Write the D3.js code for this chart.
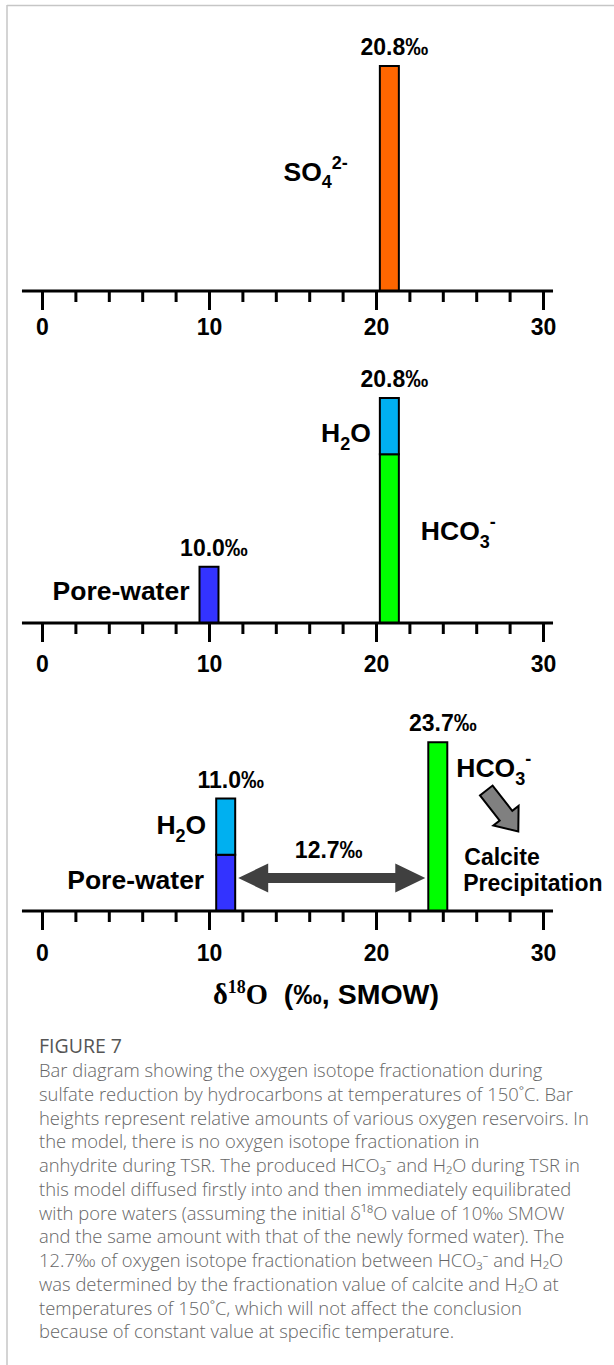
<!DOCTYPE html>
<html>
<head>
<meta charset="utf-8">
<script src="https://cdn.jsdelivr.net/npm/d3@7"></script>
<style>
  body { margin: 0; background: #fff; }
  svg { display: block; }
</style>
</head>
<body>
<div id="chart"></div>
<script>
// tick labels of the delta-18O axis
var tickLabels = [0, 10, 20, 30];
var minorTicks = [0, 2, 4, 6, 8, 10, 12, 14, 16, 18, 20, 22, 24, 26, 28, 30];

// oxygen reservoirs, one entry per bar segment (stacked from the axis up)
var segStage     = [0, 1, 1, 1, 2, 2, 2];
var segReservoir = ["SO4", "Pore-water", "HCO3", "H2O", "Pore-water", "H2O", "HCO3"];
var segDelta     = [20.8, 10.0, 20.8, 20.8, 11.0, 11.0, 23.7];
var segAmount    = [4, 1, 3, 1, 1, 1, 3];

var reservoirs = ["SO4", "Pore-water", "HCO3", "H2O"];
var reservoirColors = ["#FF6600", "#3333FF", "#00FF00", "#00B0F0"];

// fractionation between HCO3- and H2O in the last stage
var fracFrom = 11.0, fracTo = 23.7;

var captionTitle = "FIGURE 7";
var captionLines = [
  "Bar diagram showing the oxygen isotope fractionation during",
  "sulfate reduction by hydrocarbons at temperatures of 150˚C. Bar",
  "heights represent relative amounts of various oxygen reservoirs. In",
  "the model, there is no oxygen isotope fractionation in",
  "anhydrite during TSR. The produced HCO₃⁻ and H₂O during TSR in",
  "this model diffused firstly into and then immediately equilibrated",
  "with pore waters (assuming the initial δ¹⁸O value of 10‰ SMOW",
  "and the same amount with that of the newly formed water). The",
  "12.7‰ of oxygen isotope fractionation between HCO₃⁻ and H₂O",
  "was determined by the fractionation value of calcite and H₂O at",
  "temperatures of 150˚C, which will not affect the conclusion",
  "because of constant value at specific temperature."
];

// layout
var width = 614, height = 1365;
var axisYs = [291, 623, 911];
var labelOff = [44, 49, 50];
var barW = 19;
var sans = "'Liberation Sans', Arial, Helvetica, sans-serif";
var serif = "'Liberation Serif', 'Times New Roman', serif";

var svg = d3.select("#chart").append("svg")
  .attr("width", width)
  .attr("height", height);

// frame lines
svg.append("line").attr("x1", 7).attr("y1", 5.5).attr("x2", width).attr("y2", 5.5)
  .attr("stroke", "#c6c6c6").attr("stroke-width", 1.5);
svg.append("line").attr("x1", 7).attr("y1", 5).attr("x2", 7).attr("y2", height)
  .attr("stroke", "#c6c6c6").attr("stroke-width", 1.5);

var x = d3.scaleLinear().domain([0, 30]).range([42, 543]);
var h = d3.scaleLinear().domain([0, 4]).range([0, 225]);
var color = d3.scaleOrdinal().domain(reservoirs).range(reservoirColors);

// build stacked segments
var segs = [];
var tops = {};
for (var i = 0; i < segStage.length; i++) {
  var key = segStage[i] + "_" + segDelta[i];
  var base = tops[key] || 0;
  segs.push({stage: segStage[i], name: segReservoir[i], delta: segDelta[i],
             y0: base, y1: base + segAmount[i]});
  tops[key] = base + segAmount[i];
}
var stacks = Object.keys(tops).map(function(k) {
  var p = k.split("_");
  return {stage: +p[0], delta: +p[1], top: tops[k]};
});

// bars
svg.selectAll("rect.seg").data(segs).enter().append("rect")
  .attr("class", "seg")
  .attr("x", function(d) { return x(d.delta) - barW / 2; })
  .attr("y", function(d) { return axisYs[d.stage] - h(d.y1); })
  .attr("width", barW)
  .attr("height", function(d) { return h(d.y1) - h(d.y0); })
  .attr("fill", function(d) { return color(d.name); })
  .attr("stroke", "#000")
  .attr("stroke-width", 2);

// value labels on top of each stack
svg.selectAll("text.val").data(stacks).enter().append("text")
  .attr("class", "val")
  .attr("x", function(d) { return x(d.delta) + 5; })
  .attr("y", function(d) { return axisYs[d.stage] - h(d.top) - 11; })
  .attr("text-anchor", "middle")
  .attr("font-family", sans).attr("font-weight", "bold").attr("font-size", "23px")
  .text(function(d) { return d3.format(".1f")(d.delta) + "‰"; });

// axes
axisYs.forEach(function(ay, k) {
  svg.append("g").attr("transform", "translate(0," + ay + ")")
    .call(d3.axisBottom(x).tickValues(minorTicks).tickSize(11).tickFormat(""))
    .call(function(g) { g.select(".domain").remove(); })
    .selectAll("line").attr("stroke", "#000").attr("stroke-width", 3);

  var major = svg.append("g").attr("transform", "translate(0," + ay + ")")
    .call(d3.axisBottom(x).tickValues(tickLabels).tickSize(19).tickFormat(d3.format("d")));
  major.select(".domain").remove();
  major.selectAll("line").attr("stroke", "#000").attr("stroke-width", 3);
  major.selectAll("text")
    .attr("y", labelOff[k]).attr("dy", null)
    .attr("fill", "#000")
    .attr("font-family", sans).attr("font-weight", "bold").attr("font-size", "23px");

  svg.append("line")
    .attr("x1", x(-1.2)).attr("x2", x(30.6))
    .attr("y1", ay).attr("y2", ay)
    .attr("stroke", "#000").attr("stroke-width", 3);
});

// reservoir labels (placed beside their segments)
var labelPlace = [
  {i: 0, side: "left",  gap: 32, dy: 2},
  {i: 1, side: "left",  gap: 10, dy: 5},
  {i: 2, side: "right", gap: 22, dy: 1},
  {i: 3, side: "left",  gap: 9,  dy: 16},
  {i: 4, side: "left",  gap: 12, dy: 6},
  {i: 5, side: "left",  gap: 10, dy: 7},
  {i: 6, side: "right", gap: 9,  dy: -50}
];
var formula = {
  "SO4": [["SO", 0], ["4", 1], ["2-", -1]],
  "HCO3": [["HCO", 0], ["3", 1], ["-", -1]],
  "H2O": [["H", 0], ["2", 1], ["O", 0]],
  "Pore-water": [["Pore-water", 0]]
};
function writeFormula(t, parts, size) {
  var shift = 0;
  parts.forEach(function(p) {
    var target = p[1] == 1 ? size * 0.3 : (p[1] == -1 ? -size * 0.42 : 0);
    t.append("tspan")
      .attr("dy", target - shift)
      .attr("font-size", p[1] == 0 ? size : size * 0.68)
      .text(p[0]);
    shift = target;
  });
}
labelPlace.forEach(function(lp) {
  var s = segs[lp.i];
  var ay = axisYs[s.stage];
  var mid = ay - h((s.y0 + s.y1) / 2);
  var lx = lp.side == "left" ? x(s.delta) - barW / 2 - lp.gap : x(s.delta) + barW / 2 + lp.gap;
  var t = svg.append("text")
    .attr("x", lx).attr("y", mid + lp.dy)
    .attr("text-anchor", lp.side == "left" ? "end" : "start")
    .attr("font-family", sans).attr("font-weight", "bold");
  writeFormula(t, formula[s.name], 26.5);
});

// double arrow for the fractionation
var ay3 = axisYs[2];
var ax0 = x(fracFrom) + barW / 2 + 3, ax1 = x(fracTo) - barW / 2 - 3;
var acy = ay3 - 33, headL = 30, headH = 14.5, shaftH = 5;
svg.append("path")
  .attr("d", [
    "M", ax0, acy,
    "L", ax0 + headL, acy - headH,
    "L", ax0 + headL, acy - shaftH,
    "L", ax1 - headL, acy - shaftH,
    "L", ax1 - headL, acy - headH,
    "L", ax1, acy,
    "L", ax1 - headL, acy + headH,
    "L", ax1 - headL, acy + shaftH,
    "L", ax0 + headL, acy + shaftH,
    "L", ax0 + headL, acy + headH, "Z"].join(" "))
  .attr("fill", "#404040");
svg.append("text")
  .attr("x", (ax0 + ax1) / 2 - 3).attr("y", acy - 20)
  .attr("text-anchor", "middle")
  .attr("font-family", sans).attr("font-weight", "bold").attr("font-size", "23px")
  .text(d3.format(".1f")(fracTo - fracFrom) + "‰");

// calcite precipitation arrow
var gx = x(fracTo) + barW / 2 + 55, gy = ay3 - 100;
svg.append("path")
  .attr("transform", "translate(" + gx + "," + gy + ") rotate(52)")
  .attr("d", "M-26,-8 L6,-8 L6,-16 L26,0 L6,16 L6,8 L-26,8 Z")
  .attr("fill", "#808080").attr("stroke", "#000").attr("stroke-width", 2)
  .attr("stroke-linejoin", "miter");
svg.append("text")
  .attr("x", x(fracTo) + barW / 2 + 17).attr("y", ay3 - 46)
  .attr("font-family", sans).attr("font-weight", "bold").attr("font-size", "23px")
  .text("Calcite");
svg.append("text")
  .attr("x", x(fracTo) + barW / 2 + 16).attr("y", ay3 - 20)
  .attr("font-family", sans).attr("font-weight", "bold").attr("font-size", "23px")
  .text("Precipitation");

// axis title
var title = svg.append("text")
  .attr("x", 326).attr("y", 1004)
  .attr("text-anchor", "middle")
  .attr("font-size", "28.5px").attr("font-weight", "bold");
title.append("tspan").attr("font-family", serif).text("δ");
title.append("tspan").attr("font-family", serif)
  .attr("font-size", "18px").attr("dy", -11).text("18");
title.append("tspan").attr("font-family", serif)
  .attr("dy", 11).text("O");
title.append("tspan").attr("font-family", sans).text("\u00A0\u00A0(‰, SMOW)");

// caption
var capFont = "'Open Sans', 'Noto Sans', 'DejaVu Sans', sans-serif";
svg.append("text")
  .attr("x", 39).attr("y", 1053)
  .attr("font-family", capFont).attr("font-size", "19.5px").attr("fill", "#555")
  .text(captionTitle);

svg.selectAll("text.cap").data(captionLines).enter().append("text")
  .attr("class", "cap")
  .attr("x", 39)
  .attr("y", function(d, k) { return 1077 + k * 23.75; })
  .attr("font-family", capFont).attr("font-weight", 300)
  .attr("font-size", "18.4px").attr("fill", "#666")
  .text(function(d) { return d; });
</script>
</body>
</html>
